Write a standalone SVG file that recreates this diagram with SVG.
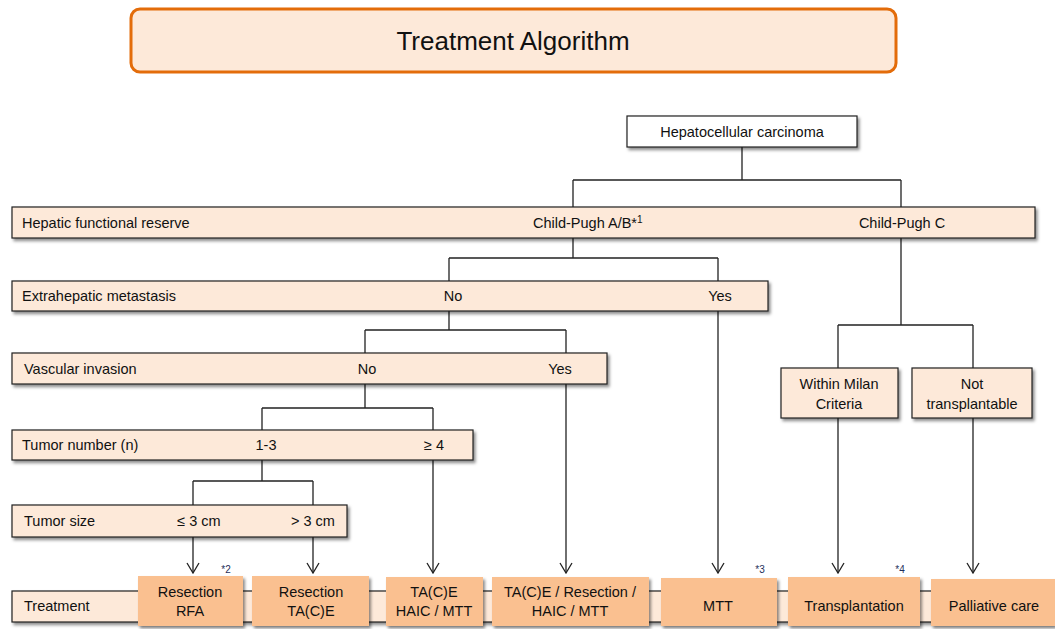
<svg xmlns="http://www.w3.org/2000/svg" width="1055" height="629" viewBox="0 0 1055 629">
<style>
text{font-family:"Liberation Sans","DejaVu Sans",sans-serif;fill:#111;font-size:14.5px}
.row{fill:#FDE9D9;stroke:#222;stroke-width:1.2;filter:url(#sh)}
.tx{fill:#FAC090;stroke:none;filter:url(#sh)}
.wh{fill:#fff;stroke:#222;stroke-width:1.2;filter:url(#sh)}
.c{text-anchor:middle}
.ln{fill:none;stroke:#222;stroke-width:1.3}
.ar{fill:none;stroke:#222;stroke-width:1.3;marker-end:url(#ah)}
.fn{font-size:10px;fill:#1F2F5A}
.sup{font-size:10px}
</style>
<defs>
<filter id="sh" x="-10%" y="-20%" width="120%" height="160%">
<feDropShadow dx="2" dy="2.5" stdDeviation="1.5" flood-color="#000" flood-opacity="0.45"/>
</filter>
<marker id="ah" viewBox="0 0 12 14" refX="11" refY="7" markerWidth="12" markerHeight="14" markerUnits="userSpaceOnUse" orient="auto">
<path d="M1,1 L11,7 L1,13" fill="none" stroke="#222" stroke-width="1.3"/>
</marker>
</defs>
<rect width="1055" height="629" fill="#fff"/>

<g id="title">
<rect x="131" y="9" width="765" height="63" rx="9" fill="#FDE9D9" stroke="#E36C0A" stroke-width="3"/>
<text x="513" y="50" class="c" style="font-size:26px">Treatment Algorithm</text>
</g>

<g id="connectors">
<path class="ln" d="M742,147 V180 M573,180 H901 M573,180 V207 M901,180 V207"/>
<path class="ln" d="M573,238 V258 M449,258 H718 M449,258 V281 M718,258 V281"/>
<path class="ln" d="M449,311 V330 M365,330 H566 M365,330 V353 M566,330 V353"/>
<path class="ln" d="M365,384 V408 M262,408 H433 M262,408 V430 M433,408 V430"/>
<path class="ln" d="M262,460 V481 M193,481 H313 M193,481 V505 M313,481 V505"/>
<path class="ln" d="M901,238 V325 M838,325 H973 M838,325 V368 M973,325 V368"/>
<path class="ar" d="M193,537 V573"/>
<path class="ar" d="M313,537 V573"/>
<path class="ar" d="M433,460 V573"/>
<path class="ar" d="M566,384 V573"/>
<path class="ar" d="M718,311 V573"/>
<path class="ar" d="M838,418 V573"/>
<path class="ar" d="M973,418 V573"/>
</g>

<g id="hcc">
<rect class="wh" x="627" y="116" width="230" height="31"/>
<text x="742" y="137" class="c">Hepatocellular carcinoma</text>
</g>

<g id="row-hepatic">
<rect class="row" x="12" y="207" width="1023" height="31"/>
<text x="22" y="228">Hepatic functional reserve</text>
<text x="533" y="228">Child-Pugh A/B*<tspan class="sup" dy="-5">1</tspan></text>
<text x="902" y="228" class="c">Child-Pugh C</text>
</g>

<g id="row-extra">
<rect class="row" x="12" y="281" width="756" height="30"/>
<text x="22" y="301">Extrahepatic metastasis</text>
<text x="453" y="301" class="c">No</text>
<text x="720" y="301" class="c">Yes</text>
</g>

<g id="row-vasc">
<rect class="row" x="12" y="353" width="595" height="31"/>
<text x="24" y="374">Vascular invasion</text>
<text x="367" y="374" class="c">No</text>
<text x="560" y="374" class="c">Yes</text>
</g>

<g id="row-number">
<rect class="row" x="12" y="430" width="461" height="30"/>
<text x="22" y="450">Tumor number (n)</text>
<text x="266" y="450" class="c">1-3</text>
<text x="434" y="450" class="c">≥ 4</text>
</g>

<g id="row-size">
<rect class="row" x="12" y="505" width="335" height="32"/>
<text x="24" y="526">Tumor size</text>
<text x="199" y="526" class="c">≤ 3 cm</text>
<text x="313" y="526" class="c">&gt; 3 cm</text>
</g>

<g id="milan">
<rect class="row" x="781" y="368" width="117" height="50"/>
<text x="839" y="389" class="c">Within Milan</text>
<text x="839" y="409" class="c">Criteria</text>
</g>

<g id="not-transplantable">
<rect class="row" x="912" y="368" width="120" height="50"/>
<text x="972" y="389" class="c">Not</text>
<text x="972" y="409" class="c">transplantable</text>
</g>

<g id="row-treatment">
<rect class="row" x="12" y="591" width="1040" height="31"/>
<text x="24" y="611">Treatment</text>
</g>

<g id="t-rfa">
<rect class="tx" x="138" y="576" width="105" height="50"/>
<text x="190" y="597" class="c">Resection</text>
<text x="190" y="616" class="c">RFA</text>
<text x="226" y="573" class="c fn">*2</text>
</g>
<g id="t-tace">
<rect class="tx" x="252" y="576" width="117" height="50"/>
<text x="311" y="597" class="c">Resection</text>
<text x="311" y="616" class="c">TA(C)E</text>
</g>
<g id="t-haic">
<rect class="tx" x="386" y="577" width="97" height="49"/>
<text x="434" y="597" class="c">TA(C)E</text>
<text x="434" y="616" class="c">HAIC / MTT</text>
</g>
<g id="t-multi">
<rect class="tx" x="492" y="577" width="157" height="49"/>
<text x="570" y="597" class="c">TA(C)E / Resection /</text>
<text x="570" y="616" class="c">HAIC / MTT</text>
</g>
<g id="t-mtt">
<rect class="tx" x="661" y="578" width="116" height="48"/>
<text x="718" y="611" class="c">MTT</text>
<text x="760" y="573" class="c fn">*3</text>
</g>
<g id="t-transplant">
<rect class="tx" x="788" y="577" width="132" height="49"/>
<text x="854" y="611" class="c">Transplantation</text>
<text x="900" y="573" class="c fn">*4</text>
</g>
<g id="t-palliative">
<rect class="tx" x="931" y="579" width="124" height="47"/>
<text x="994" y="611" class="c">Palliative care</text>
</g>
</svg>
